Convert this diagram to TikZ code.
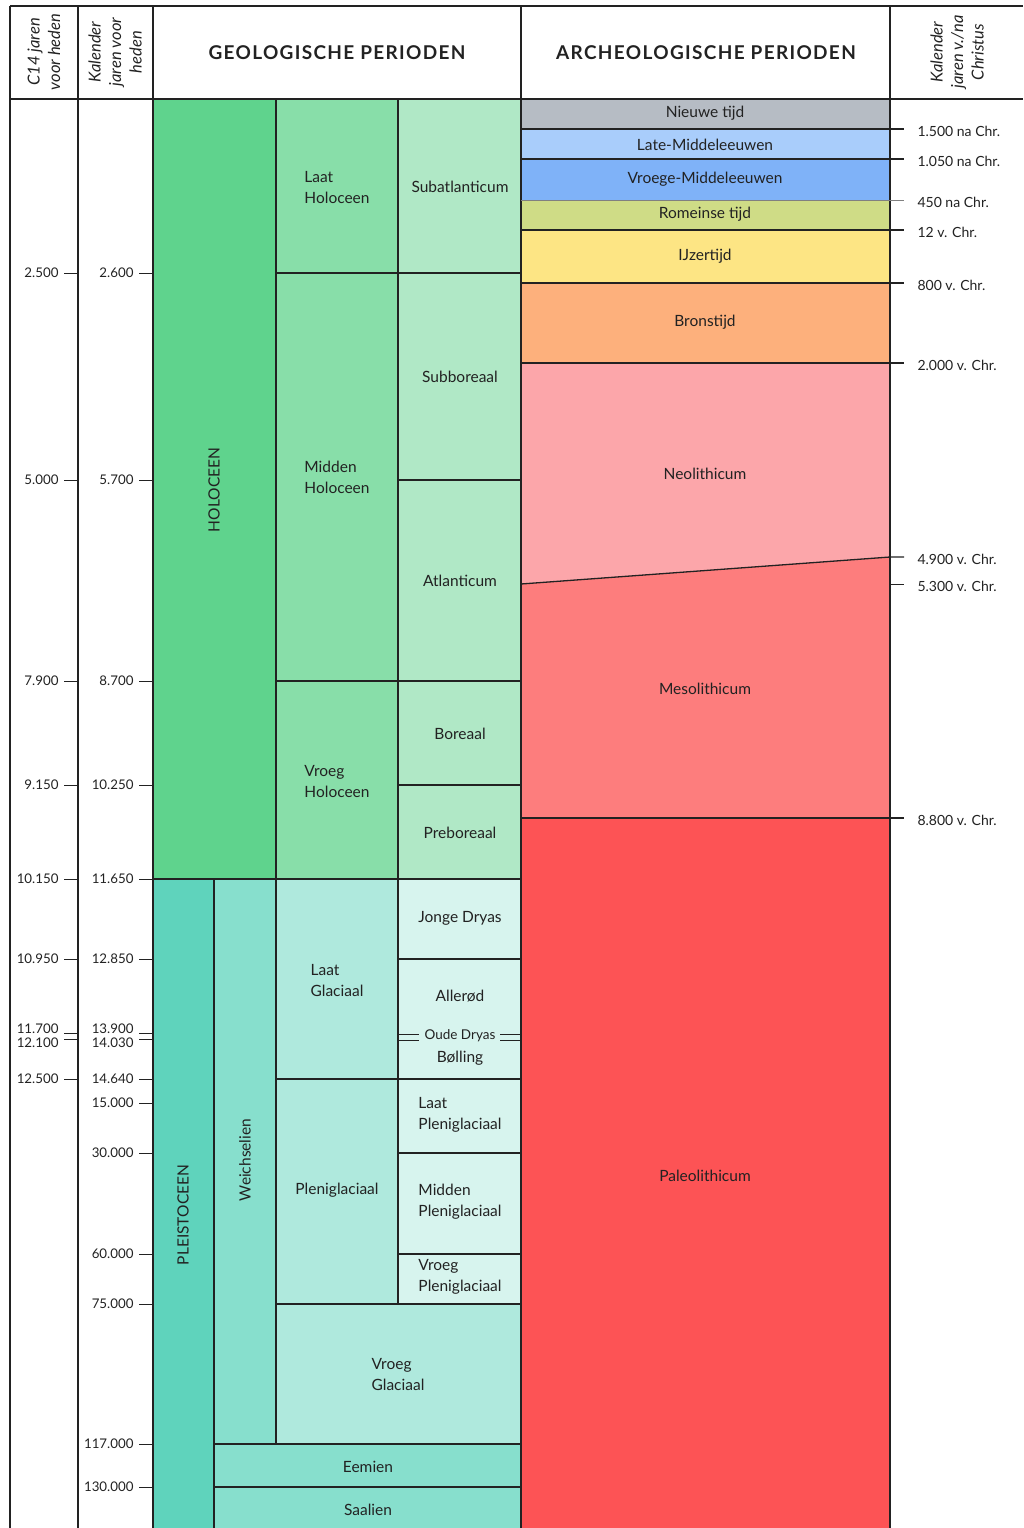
\documentclass[tikz,border=0pt]{standalone}
\usepackage{fontspec}
\setmainfont{Lato}

\definecolor{holoA}{HTML}{5FD38D}
\definecolor{holoB}{HTML}{88DEA9}
\definecolor{holoC}{HTML}{B0E8C6}
\definecolor{pleiA}{HTML}{5FD3BC}
\definecolor{pleiB}{HTML}{87DFCD}
\definecolor{pleiC}{HTML}{AFE9DD}
\definecolor{pleiD}{HTML}{D7F4EE}
\definecolor{nieuw}{HTML}{B6BCC4}
\definecolor{latemid}{HTML}{A9CDFB}
\definecolor{vroegmid}{HTML}{7FB2F8}
\definecolor{romein}{HTML}{CFDC86}
\definecolor{ijzer}{HTML}{FDE584}
\definecolor{brons}{HTML}{FDB07C}
\definecolor{neo}{HTML}{FCA6AA}
\definecolor{meso}{HTML}{FD7D7D}
\definecolor{paleo}{HTML}{FD5355}
\definecolor{ink}{HTML}{222222}

\begin{document}
\begin{tikzpicture}[x=1pt,y=-1pt,
    rule/.style={ink,line width=1.3pt},
    tick/.style={ink,line width=1pt},
    period/.style={text=ink,font=\fontsize{15.5}{21}\selectfont},
    perleft/.style={period,align=left},
    years/.style={text=ink,font=\fontsize{13.3}{15}\selectfont},
    chryears/.style={text=ink,font=\fontsize{14}{16}\selectfont},
    head/.style={text=ink,font=\bfseries\fontsize{19}{21}\selectfont\addfontfeatures{LetterSpace=7}},
    colhead/.style={text=ink,font=\itshape\fontsize{16.5}{20.5}\selectfont,rotate=90,align=center}]
  \useasboundingbox (0,0) rectangle (1023,1528);

  % geologische vlakken
  \fill[holoA] (153,99) rectangle (276,879);
  \fill[holoB] (276,99) rectangle (398,879);
  \fill[holoC] (398,99) rectangle (521,879);
  \fill[pleiA] (153,879) rectangle (214,1528);
  \fill[pleiB] (214,879) rectangle (276,1528);
  \fill[pleiB] (214,1444) rectangle (521,1528);
  \fill[pleiC] (276,879) rectangle (398,1304);
  \fill[pleiC] (276,1304) rectangle (521,1444);
  \fill[pleiD] (398,879) rectangle (521,1304);

  % archeologische vlakken
  \fill[nieuw] (521,99) rectangle (890,129);
  \fill[latemid] (521,129) rectangle (890,159);
  \fill[vroegmid] (521,159) rectangle (890,200);
  \fill[romein] (521,200) rectangle (890,230);
  \fill[ijzer] (521,230) rectangle (890,283);
  \fill[brons] (521,283) rectangle (890,363);
  \fill[neo] (521,363) -- (890,363) -- (890,557) -- (521,584) -- cycle;
  \fill[meso] (521,584) -- (890,557) -- (890,818) -- (521,818) -- cycle;
  \fill[paleo] (521,818) rectangle (890,1528);

  % kader
  \draw[rule] (10,6) -- (1023,6);
  \draw[rule] (10,99) -- (1023,99);
  \foreach \x in {10,78,153,521,890}
    \draw[rule] (\x,6) -- (\x,1528);

  % geologische lijnen
  \draw[rule] (276,99) -- (276,1444);
  \draw[rule] (398,99) -- (398,1304);
  \draw[rule] (214,879) -- (214,1528);
  \draw[rule] (276,273) -- (521,273);
  \draw[rule] (276,681) -- (521,681);
  \draw[rule] (398,480) -- (521,480);
  \draw[rule] (398,785) -- (521,785);
  \draw[rule] (153,879) -- (521,879);
  \draw[rule] (398,959) -- (521,959);
  \draw[rule] (276,1079) -- (521,1079);
  \draw[rule] (398,1153) -- (521,1153);
  \draw[rule] (398,1254) -- (521,1254);
  \draw[rule] (276,1304) -- (521,1304);
  \draw[rule] (214,1444) -- (521,1444);
  \draw[rule] (214,1487) -- (521,1487);
  \foreach \y in {1034,1040} {
    \draw[tick] (398,\y) -- (419,\y);
    \draw[tick] (500,\y) -- (521,\y);
  }

  % archeologische lijnen
  \foreach \y in {129,159,230,283,363,818}
    \draw[rule] (521,\y) -- (904,\y);
  \draw[tick,gray] (521,200) -- (904,200);
  \draw[rule] (521,584) -- (890,557) -- (904,557);
  \draw[tick] (890,584) -- (904,584);

  % tijdschalen links
  \foreach \y/\ya/\a/\yb/\b in {273/273/2.500/273/2.600, 480/480/5.000/480/5.700,
      681/681/7.900/681/8.700, 785/785/9.150/785/10.250, 879/879/10.150/879/11.650,
      959/959/10.950/959/12.850, 1033/1029/11.700/1029/13.900,
      1039/1043/12.100/1043/14.030, 1079/1079/12.500/1079/14.640} {
    \draw[tick] (64,\y) -- (78,\y);
    \draw[tick] (139,\y) -- (153,\y);
    \node[years,anchor=east] (c\y) at (62,\ya) {\a};
    \node[years,anchor=east] (k\y) at (137,\yb) {\b};
  }
  \foreach \y/\b in {1103/15.000, 1153/30.000, 1254/60.000, 1304/75.000,
      1444/117.000, 1487/130.000} {
    \draw[tick] (139,\y) -- (153,\y);
    \node[years,anchor=east] (k\y) at (137,\y) {\b};
  }

  % tijdschaal rechts
  \foreach \y/\t in {129/1.500 na Chr., 159/1.050 na Chr., 200/450 na Chr.,
      230/12 v. Chr., 283/800 v. Chr., 363/2.000 v. Chr., 557/4.900 v. Chr.,
      584/5.300 v. Chr., 818/8.800 v. Chr.}
    \node[chryears,anchor=west] (r\y) at (914,\y+2) {\t};

  % koppen
  \node[colhead] (c14) at (44,52) {C14 jaren\\voor heden};
  \node[colhead] (kal) at (115,52) {Kalender\\jaren voor\\heden};
  \node[colhead] (chr) at (957,52) {Kalender\\jaren v./na\\Christus};
  \node[head] (geo) at (337,53) {GEOLOGISCHE PERIODEN};
  \node[head] (arch) at (706,53) {ARCHEOLOGISCHE PERIODEN};

  % geologische perioden
  \node[period,rotate=90] (holo) at (214,490) {HOLOCEEN};
  \node[period,rotate=90] (pleis) at (183,1215) {PLEISTOCEEN};
  \node[period,rotate=90] (weich) at (245,1160) {Weichselien};
  \node[perleft] (laath) at (337,187) {Laat\\Holoceen};
  \node[perleft] (middh) at (337,477) {Midden\\Holoceen};
  \node[perleft] (vroegh) at (337,781) {Vroeg\\Holoceen};
  \node[period] (subat) at (460,187) {Subatlanticum};
  \node[period] (subbo) at (460,377) {Subboreaal};
  \node[period] (atlan) at (460,581) {Atlanticum};
  \node[period] (borea) at (460,734) {Boreaal};
  \node[period] (prebo) at (460,833) {Preboreaal};
  \node[perleft] (laatg) at (337,980) {Laat\\Glaciaal};
  \node[period] (pleni) at (337,1190) {Pleniglaciaal};
  \node[perleft] (vroegg) at (398,1374) {Vroeg\\Glaciaal};
  \node[period] (jonge) at (460,918) {Jonge Dryas};
  \node[period] (aller) at (460,996) {Allerød};
  \node[period,font=\fontsize{13.5}{15}\selectfont] (oude) at (460,1036) {Oude Dryas};
  \node[period] (bolli) at (460,1058) {Bølling};
  \node[perleft] (laatp) at (460,1115) {Laat\\Pleniglaciaal};
  \node[perleft] (middp) at (460,1202) {Midden\\Pleniglaciaal};
  \node[perleft] (vroegp) at (460,1277) {Vroeg\\Pleniglaciaal};
  \node[period] (eemien) at (368,1467) {Eemien};
  \node[period] (saal) at (368,1510) {Saalien};

  % archeologische perioden
  \node[period] (nieuwe) at (705,113) {Nieuwe tijd};
  \node[period] (latem) at (705,145) {Late-Middeleeuwen};
  \node[period] (vroegm) at (705,179) {Vroege-Middeleeuwen};
  \node[period] (romeins) at (705,214) {Romeinse tijd};
  \node[period] (ijzert) at (705,256) {IJzertijd};
  \node[period] (bronst) at (705,322) {Bronstijd};
  \node[period] (neolith) at (705,474) {Neolithicum};
  \node[period] (mesolith) at (705,689) {Mesolithicum};
  \node[period] (paleolith) at (705,1176) {Paleolithicum};
\end{tikzpicture}
\end{document}
